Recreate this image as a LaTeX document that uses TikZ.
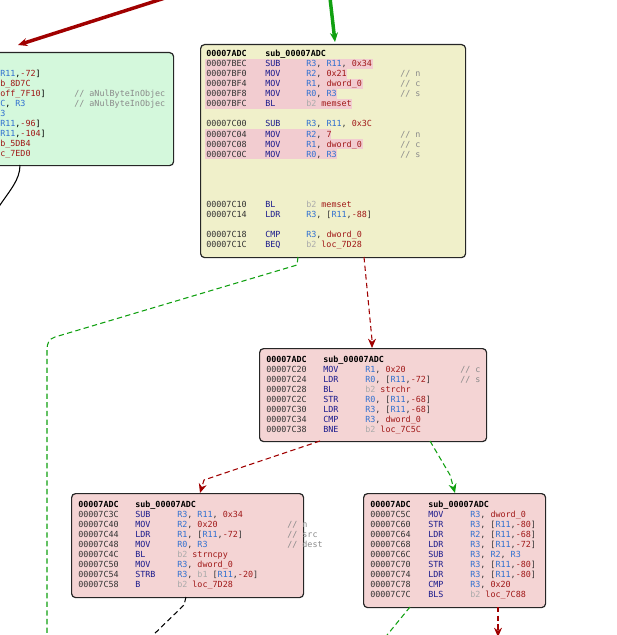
\documentclass[tikz,border=0pt]{standalone}
\usepackage{fontspec}
\setmonofont{DejaVu Sans Mono}
\usetikzlibrary{arrows.meta}
\definecolor{adr}{HTML}{333333}
\definecolor{mnc}{HTML}{1A1A8C}
\definecolor{reg}{HTML}{3070D0}
\definecolor{val}{HTML}{A01818}
\definecolor{cmc}{HTML}{8A8A8A}
\definecolor{bgc}{HTML}{ABABAB}
\definecolor{hlc}{HTML}{F2CCD0}
\definecolor{pinkbox}{HTML}{F4D4D4}
\definecolor{yelbox}{HTML}{F0F0CA}
\definecolor{grnbox}{HTML}{D4F8DC}
\definecolor{ered}{HTML}{A00000}
\definecolor{egrn}{HTML}{10A010}
\newcommand\RR[1]{\textcolor{reg}{#1}}
\newcommand\VV[1]{\textcolor{val}{#1}}
\newcommand\BB[1]{\textcolor{bgc}{#1}}
\def\ax{0}\def\mx{0}\def\ox{0}\def\cx{0}
\newcommand\Row[5]{%
 \node[T,text=adr] at (\ax,#1) {#2};
 \node[T,text=mnc] at (\mx,#1) {#3};
 \node[T,text=adr] at (\ox,#1) {#4};
 \node[T,text=cmc] at (\cx,#1) {#5};}
\newcommand\Head[2]{%
 \node[T,font=\ttfamily\bfseries\fontsize{6.3}{7}\selectfont] at (\ax,#1) {00007ADC};
 \node[T,font=\ttfamily\bfseries\fontsize{6.3}{7}\selectfont] at (\mx,#1) {#2};}
\begin{document}
\begin{tikzpicture}[x=0.75pt,y=-0.75pt,
 T/.style={anchor=base west,inner sep=0pt,font=\ttfamily\fontsize{6.3}{7}\selectfont},
 box/.style={draw=black!85,line width=0.9pt,rounded corners=3pt},
 hl/.style={fill=hlc},
 tip/.style={-{Stealth[length=7pt,width=6pt]}},
 dsh/.style={dash pattern=on 4pt off 2.5pt,line width=0.8pt}]
\useasboundingbox (0,0) rectangle (617,635);
\clip (0,0) rectangle (617,635);
% boxes
\node[box,fill=grnbox,minimum width=190*0.75pt,minimum height=113*0.75pt,anchor=north west] (g) at (-17,52) {};
\node[box,fill=yelbox,minimum width=265*0.75pt,minimum height=213*0.75pt,anchor=north west] (y) at (200,44) {};
\node[box,fill=pinkbox,minimum width=227*0.75pt,minimum height=93*0.75pt,anchor=north west] (p1) at (259,348) {};
\node[box,fill=pinkbox,minimum width=232*0.75pt,minimum height=104*0.75pt,anchor=north west] (p2) at (71,493) {};
\node[box,fill=pinkbox,minimum width=182*0.75pt,minimum height=114*0.75pt,anchor=north west] (p3) at (363,493) {};
% edges
\coordinate (a0) at (165,-2);
\draw[ered,line width=2.6pt,tip] (a0) -- (18,45);
\coordinate (a1) at (330,-2);
\draw[egrn,line width=2.6pt,tip] (a1) -- (335,42);
\coordinate (a2) at (-2,208);
\draw[black,line width=0.8pt] (20,165) .. controls (20,180) and (10,190) .. (a2);
\coordinate (a3) at (47,640);
\draw[egrn,dsh] (298,257) -- (297,265) -- (55,337) .. controls (49,339) and (47,343) .. (47,350) -- (a3);
\draw[ered,dsh,tip] (364,257) -- (372,340) -- (p1.north -| 372,348);
\draw[ered,dsh,tip] (320,441) -- (204,480) -- (200,493);
\draw[egrn,dsh,tip] (430,441) -- (450,475) -- (455,493);
\coordinate (a4) at (148,640);
\draw[black,dsh] (186,597) -- (184,605) -- (a4);
\coordinate (a5) at (383,640);
\draw[egrn,dsh] (410,607) -- (a5);
\coordinate (a6) at (498,637);
\draw[ered,dsh,tip] (498,607) -- (a6);
% green box text
\def\ax{0}\def\cx{74}
\node[T] at (0,76) {\RR{R11},\VV{-72}]};
\node[T] at (0,86) {\VV{b\_8D7C}};
\node[T] at (0,96) {\VV{off\_7F10}]};
\node[T,text=cmc] at (74,96) {// aNulByteInObjec};
\node[T] at (0,106) {\RR{C}, \RR{R3}};
\node[T,text=cmc] at (74,106) {// aNulByteInObjec};
\node[T] at (0,116) {\RR{3}};
\node[T] at (0,126) {\RR{R11},\VV{-96}]};
\node[T] at (0,136) {\RR{R11},\VV{-104}]};
\node[T] at (0,146) {\VV{b\_5DB4}};
\node[T] at (0,156) {\VV{c\_7ED0}};
% yellow box
\fill[hl] (205,59) rectangle (373,69);
\fill[hl] (205,69) rectangle (347,79);
\fill[hl] (205,79) rectangle (363,89);
\fill[hl] (205,89) rectangle (337,99);
\fill[hl] (205,99) rectangle (352,109);
\fill[hl] (205,129) rectangle (331,139);
\fill[hl] (205,139) rectangle (363,149);
\fill[hl] (205,149) rectangle (337,159);
\def\ax{206}\def\mx{265}\def\ox{306}\def\cx{400}
\Head{57}{sub\_00007ADC}
\Row{67}{00007BEC}{SUB}{\RR{R3}, \RR{R11}, \VV{0x34}}{}
\Row{77}{00007BF0}{MOV}{\RR{R2}, \VV{0x21}}{// n}
\Row{87}{00007BF4}{MOV}{\RR{R1}, \VV{dword\_0}}{// c}
\Row{97}{00007BF8}{MOV}{\RR{R0}, \RR{R3}}{// s}
\Row{107}{00007BFC}{BL}{\BB{b2} \VV{memset}}{}
\Row{127}{00007C00}{SUB}{\RR{R3}, \RR{R11}, \VV{0x3C}}{}
\Row{137}{00007C04}{MOV}{\RR{R2}, \VV{7}}{// n}
\Row{147}{00007C08}{MOV}{\RR{R1}, \VV{dword\_0}}{// c}
\Row{157}{00007C0C}{MOV}{\RR{R0}, \RR{R3}}{// s}
\Row{207}{00007C10}{BL}{\BB{b2} \VV{memset}}{}
\Row{217}{00007C14}{LDR}{\RR{R3}, [\RR{R11},\VV{-88}]}{}
\Row{237}{00007C18}{CMP}{\RR{R3}, \VV{dword\_0}}{}
\Row{247}{00007C1C}{BEQ}{\BB{b2} \VV{loc\_7D28}}{}
% pink 1
\def\ax{266}\def\mx{323}\def\ox{365}\def\cx{460}
\Head{362}{sub\_00007ADC}
\Row{372}{00007C20}{MOV}{\RR{R1}, \VV{0x20}}{// c}
\Row{382}{00007C24}{LDR}{\RR{R0}, [\RR{R11},\VV{-72}]}{// s}
\Row{392}{00007C28}{BL}{\BB{b2} \VV{strchr}}{}
\Row{402}{00007C2C}{STR}{\RR{R0}, [\RR{R11},\VV{-68}]}{}
\Row{412}{00007C30}{LDR}{\RR{R3}, [\RR{R11},\VV{-68}]}{}
\Row{422}{00007C34}{CMP}{\RR{R3}, \VV{dword\_0}}{}
\Row{432}{00007C38}{BNE}{\BB{b2} \VV{loc\_7C5C}}{}
% pink 2
\def\ax{78}\def\mx{135}\def\ox{177}\def\cx{287}
\Head{507}{sub\_00007ADC}
\Row{517}{00007C3C}{SUB}{\RR{R3}, \RR{R11}, \VV{0x34}}{}
\Row{527}{00007C40}{MOV}{\RR{R2}, \VV{0x20}}{// n}
\Row{537}{00007C44}{LDR}{\RR{R1}, [\RR{R11},\VV{-72}]}{// src}
\Row{547}{00007C48}{MOV}{\RR{R0}, \RR{R3}}{// dest}
\Row{557}{00007C4C}{BL}{\BB{b2} \VV{strncpy}}{}
\Row{567}{00007C50}{MOV}{\RR{R3}, \VV{dword\_0}}{}
\Row{577}{00007C54}{STRB}{\RR{R3}, \BB{b1} [\RR{R11},\VV{-20}]}{}
\Row{587}{00007C58}{B}{\BB{b2} \VV{loc\_7D28}}{}
% pink 3
\def\ax{370}\def\mx{428}\def\ox{470}\def\cx{540}
\Head{507}{sub\_00007ADC}
\Row{517}{00007C5C}{MOV}{\RR{R3}, \VV{dword\_0}}{}
\Row{527}{00007C60}{STR}{\RR{R3}, [\RR{R11},\VV{-80}]}{}
\Row{537}{00007C64}{LDR}{\RR{R2}, [\RR{R11},\VV{-68}]}{}
\Row{547}{00007C68}{LDR}{\RR{R3}, [\RR{R11},\VV{-72}]}{}
\Row{557}{00007C6C}{SUB}{\RR{R3}, \RR{R2}, \RR{R3}}{}
\Row{567}{00007C70}{STR}{\RR{R3}, [\RR{R11},\VV{-80}]}{}
\Row{577}{00007C74}{LDR}{\RR{R3}, [\RR{R11},\VV{-80}]}{}
\Row{587}{00007C78}{CMP}{\RR{R3}, \VV{0x20}}{}
\Row{597}{00007C7C}{BLS}{\BB{b2} \VV{loc\_7C88}}{}
\end{tikzpicture}
\end{document}
